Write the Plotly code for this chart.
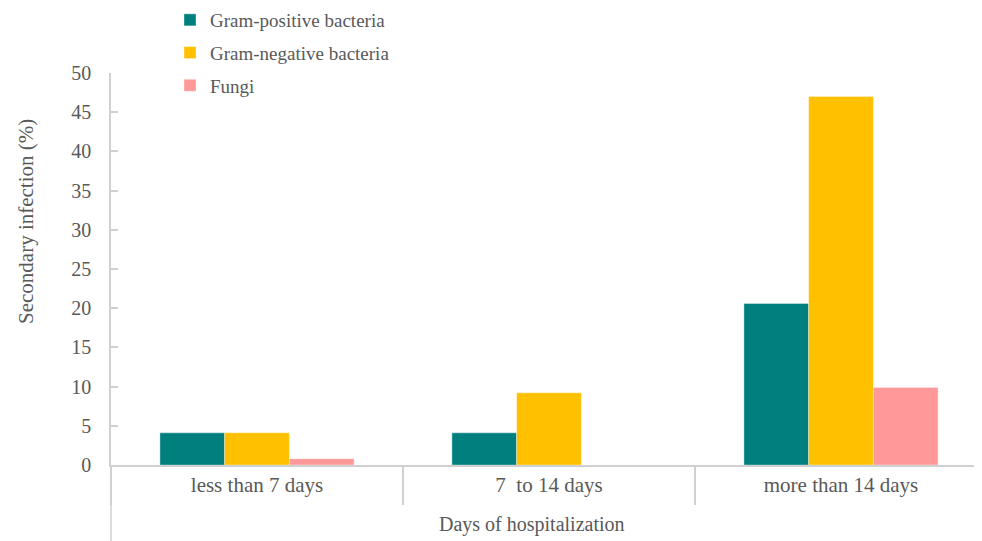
import plotly.graph_objects as go

categories = ["less than 7 days", "7  to 14 days", "more than 14 days"]
gram_positive = [4.1, 4.1, 20.6]
gram_negative = [4.1, 9.2, 47.0]
fungi = [0.8, 0.0, 9.9]
series_names = ["Gram-positive bacteria", "Gram-negative bacteria", "Fungi"]
series_colors = ["#007f7f", "#ffc000", "#ff9999"]
y_ticks = [0, 5, 10, 15, 20, 25, 30, 35, 40, 45, 50]

FONT = "Liberation Serif, Times New Roman, serif"
GRAY = "#595959"
AXIS = "#d0d0d0"

fig = go.Figure()
for i, (name, vals, col) in enumerate(zip(series_names, [gram_positive, gram_negative, fungi], series_colors)):
    fig.add_trace(go.Bar(
        x=categories, y=vals, name=name,
        marker=dict(color=col, line=dict(color="rgba(255,255,255,0.6)", width=0.6)),
        legendgroup=f"g{i}",
    ))

# the page body has an 8px margin, so the figure starts at (8, 8) in the window
OFF = 8
W, H = 982 - OFF, 541 - OFF
L = 111 - OFF
T = 73 - OFF
B = H - (465 - OFF)
plot_w = W - L
plot_h = H - T - B
cat_w = 292
x_hi = -0.5 + plot_w / cat_w


def px_x(x):
    return (x - OFF - L) / plot_w


def px_y(y):
    return (H - B - (y - OFF)) / plot_h


fig.update_layout(
    template="none",
    width=W, height=H,
    margin=dict(l=L, r=0, t=T, b=B, pad=0, autoexpand=False),
    paper_bgcolor="white", plot_bgcolor="white",
    barmode="group", bargap=0.335, bargroupgap=0,
    font=dict(family=FONT, size=20, color=GRAY),
    showlegend=True,
    legend=dict(
        x=px_x(170), xref="paper", xanchor="left",
        y=px_y(1), yanchor="top",
        orientation="v", tracegroupgap=5,
        font=dict(family=FONT, size=19, color=GRAY),
        bgcolor="rgba(0,0,0,0)", borderwidth=0,
    ),
    xaxis=dict(
        type="category", range=[-0.5, x_hi], automargin=False,
        showline=True, linecolor=AXIS, linewidth=1.5,
        ticks="outside", tickson="boundaries", ticklen=38, tickcolor=AXIS, tickwidth=1.5,
        showgrid=False, zeroline=False,
        tickfont=dict(family=FONT, size=21, color=GRAY),
    ),
    yaxis=dict(
        range=[0, 50], tickvals=y_ticks, automargin=False,
        showline=True, linecolor=AXIS, linewidth=1.5,
        ticks="inside", ticklen=7, tickcolor=AXIS, tickwidth=1.5,
        ticklabelstandoff=14,
        showgrid=False, zeroline=False,
        tickfont=dict(family=FONT, size=20, color=GRAY),
    ),
    annotations=[
        dict(
            text="Days of hospitalization", xref="paper", yref="paper",
            x=px_x(532), y=px_y(524),
            xanchor="center", yanchor="middle", showarrow=False,
            font=dict(family=FONT, size=20, color=GRAY),
        ),
        dict(
            text="Secondary infection (%)", xref="paper", yref="paper",
            x=px_x(26), y=px_y(222), textangle=-90,
            xanchor="center", yanchor="middle", showarrow=False,
            font=dict(family=FONT, size=21, color=GRAY),
        ),
    ],
    shapes=[dict(
        type="line", xref="paper", yref="paper",
        x0=0, x1=0, y0=0, y1=px_y(541),
        line=dict(color=AXIS, width=1.5),
    )],
)

fig.write_html("out.html")
